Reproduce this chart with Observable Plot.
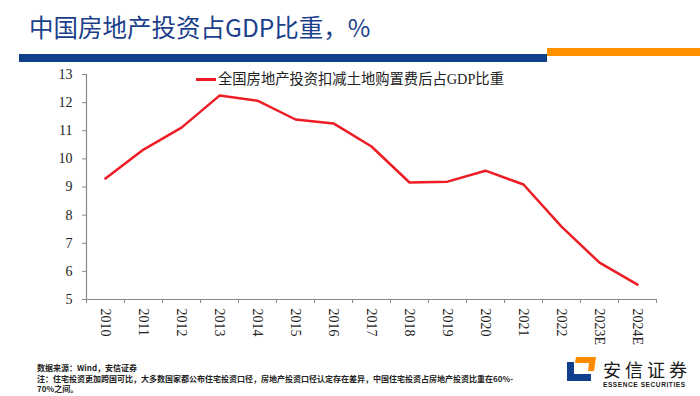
<!DOCTYPE html>
<html>
<head>
<meta charset="utf-8">
<script src="https://cdn.jsdelivr.net/npm/d3@7"></script>
<script src="https://cdn.jsdelivr.net/npm/@observablehq/plot@0.6"></script>
<style>
  html, body { margin: 0; padding: 0; background: #fff; }
  #wrap { position: relative; width: 700px; height: 396px; overflow: hidden; background: #fff; }
  #chart { position: absolute; left: 0; top: 0; }
  .abs { position: absolute; white-space: nowrap; }
  #title { left: 29px; top: 12px; font-family: "Noto Sans CJK SC", sans-serif; font-size: 24.5px; color: #1b3f8b; line-height: 30px; letter-spacing: 0px; }
  #barBlue { left: 19px; top: 54px; width: 528px; height: 8px; background: #103f8c; }
  #barOrange { left: 547px; top: 48px; width: 153px; height: 8px; background: #ff9100; }
  #legLine { left: 196px; top: 78px; width: 20px; height: 2.5px; background: #ee1c25; }
  #legText { left: 218px; top: 69px; font-family: "Liberation Serif", "Noto Sans CJK SC", serif; font-size: 14.3px; color: #222; line-height: 20px; }
  .foot { left: 37px; font-family: "Noto Sans CJK SC", sans-serif; font-size: 8px; color: #222; font-weight: 700; line-height: 10px; }
  #logoText { left: 603px; top: 358px; font-family: "Noto Sans CJK SC", sans-serif; font-size: 18px; letter-spacing: 4px; color: #1a1a1a; line-height: 22px; }
  #logoEn { left: 603px; top: 381px; font-family: "Liberation Sans", sans-serif; font-size: 6.5px; font-weight: 700; letter-spacing: 0.6px; color: #1a1a1a; line-height: 8px; }
</style>
</head>
<body>
<div id="wrap">
  <div id="chart"></div>
  <div class="abs" id="title">中国房地产投资占GDP比重，%</div>
  <div class="abs" id="barBlue"></div>
  <div class="abs" id="barOrange"></div>
  <div class="abs" id="legLine"></div>
  <div class="abs" id="legText">全国房地产投资扣减土地购置费后占GDP比重</div>
  <div class="abs foot" style="top:363px">数据来源：Wind，安信证券</div>
  <div class="abs foot" style="top:374px">注：住宅投资更加跨国可比，大多数国家都公布住宅投资口径，房地产投资口径认定存在差异，中国住宅投资占房地产投资比重在60%-</div>
  <div class="abs foot" style="top:384px">70%之间。</div>
  <svg class="abs" style="left:565px;top:356px" width="32" height="26" viewBox="0 0 32 26">
    <polygon points="2,6 9,6 9,18 26,18 26,25 2,25" fill="#103f8c"/>
    <polygon points="11,1 31,1 29,15 23,15 24,7 10,7" fill="#ff8a00"/>
  </svg>
  <div class="abs" id="logoText">安信证券</div>
  <div class="abs" id="logoEn">ESSENCE SECURITIES</div>
</div>
<script>
const years = ["2010","2011","2012","2013","2014","2015","2016","2017","2018","2019","2020","2021","2022","2023E","2024E"];
const values = [9.30, 10.33, 11.11, 12.25, 12.07, 11.40, 11.26, 10.44, 9.16, 9.19, 9.58, 9.09, 7.59, 6.31, 5.53];
const yTicks = [5, 6, 7, 8, 9, 10, 11, 12, 13];

const data = years.map((y, i) => ({i, year: y, v: values[i]}));
const xDomain = [-0.5, years.length - 0.5];
const bandEdges = d3.range(years.length + 1).map(k => k - 0.5);
const centers = d3.range(years.length);

const chart = Plot.plot({
  width: 700,
  height: 396,
  marginTop: 74,
  marginBottom: 97,
  marginLeft: 86,
  marginRight: 44,
  x: {type: "linear", domain: xDomain},
  y: {domain: [yTicks[0], yTicks[yTicks.length - 1]]},
  style: {fontFamily: "'Liberation Serif', 'Times New Roman', serif", fontSize: "14px", color: "#222", background: "transparent"},
  marks: [
    Plot.ruleX([xDomain[0]], {stroke: "#8a8a8a", strokeWidth: 1.2}),
    Plot.ruleY([yTicks[0]], {stroke: "#8a8a8a", strokeWidth: 1.2}),
    Plot.axisY(yTicks, {tickSize: 4, tickPadding: 10, stroke: "#8a8a8a", fill: "#222", label: null}),
    Plot.axisX(bandEdges, {tickSize: 4, tickFormat: () => "", stroke: "#8a8a8a", label: null}),
    Plot.axisX(centers, {tickSize: 0, tickPadding: 9, tickRotate: 90, tickFormat: i => years[i], fill: "#222", label: null}),
    Plot.lineY(data, {x: "i", y: "v", stroke: "#ee1c25", strokeWidth: 2.5})
  ]
});
document.getElementById("chart").appendChild(chart);
</script>
</body>
</html>
